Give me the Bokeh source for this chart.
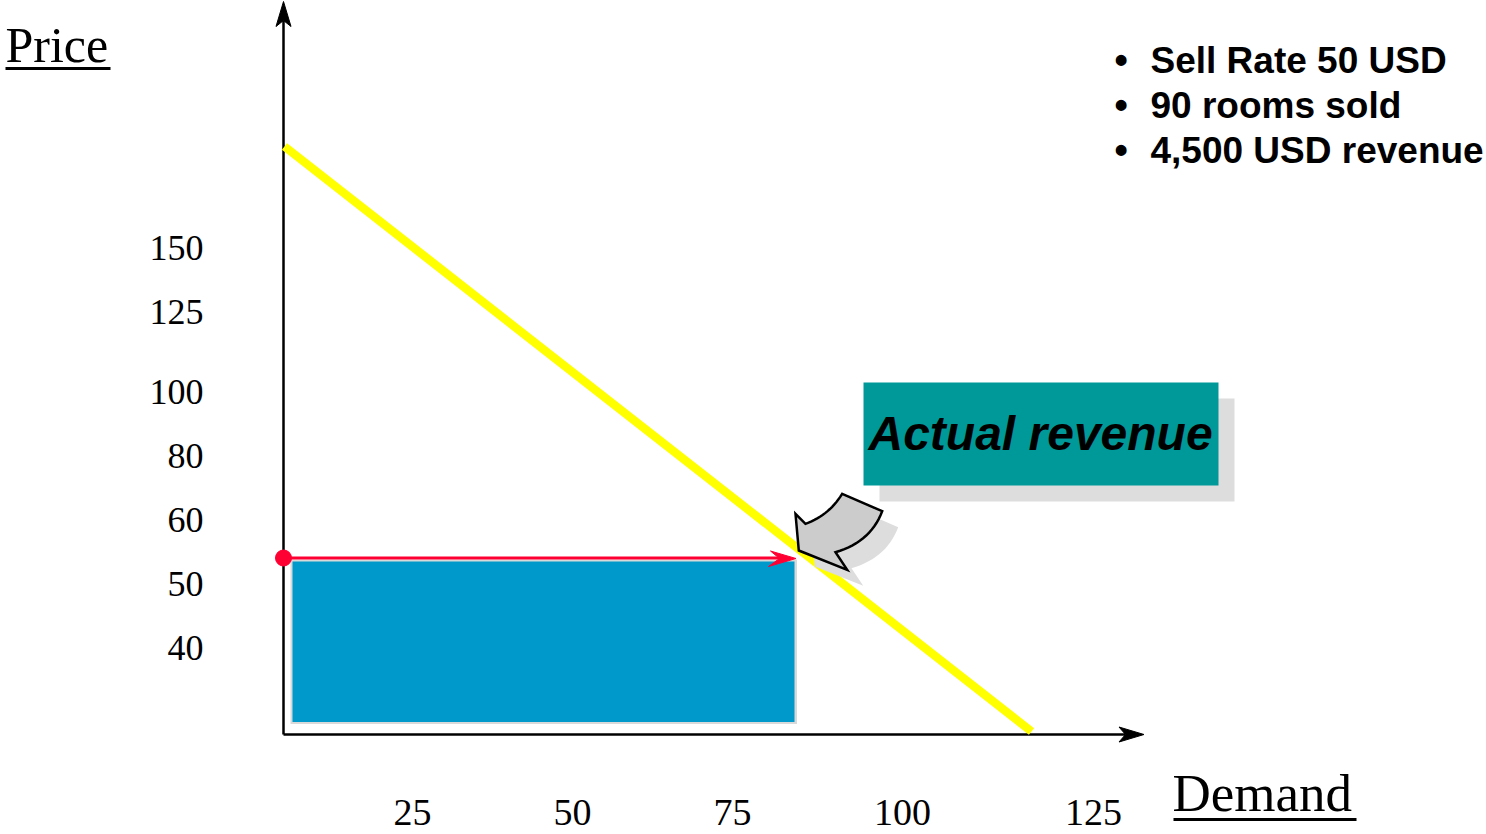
from bokeh.plotting import figure
from bokeh.models import Range1d
from bokeh.core.properties import value
from bokeh.embed import file_html
from bokeh.resources import INLINE
import numpy as np

# ---- data (labels / values) ----
price_ticks = ["150", "125", "100", "80", "60", "50", "40"]
demand_ticks = ["25", "50", "75", "100", "125"]
bullets = ["Sell Rate 50 USD", "90 rooms sold", "4,500 USD revenue"]
callout_label = "Actual revenue"
x_title = "Demand"
y_title = "Price"

# ---- layout (canvas positions, pixels; baselines) ----
price_tick_y = [260, 324, 404, 468, 532, 596, 660]
demand_tick_x = [412, 572, 732, 902, 1093]
bullet_y = [73, 118, 163]

W, H = 1486, 834
p = figure(width=W, height=H, x_range=Range1d(0, W), y_range=Range1d(H, 0),
           output_backend="svg", toolbar_location=None,
           x_axis_type=None, y_axis_type=None, min_border=0,
           outline_line_color=None, background_fill_color="white",
           border_fill_color="white")

serif = value("Liberation Serif")
sans = value("Liberation Sans")


def base(ys, fs):
    # compensate renderer's baseline offset
    return [y - 0.36 * fs for y in ys]


# axes
ox, oy = 283, 734
p.line([ox, ox], [oy, 20], line_color="black", line_width=2.5)
p.line([ox, 1125], [oy, oy], line_color="black", line_width=2.5)
p.patch([283, 290.5, 283, 275.5], [1, 26, 20, 26], fill_color="black", line_color="black", line_width=1)
p.patch([1143.5, 1118.5, 1125, 1118.5], [734, 726.5, 734, 741.5], fill_color="black", line_color="black", line_width=1)

# revenue rectangle
p.quad(left=[290], right=[796.5], top=[559], bottom=[723.5], fill_color="#D9D9D9", line_color=None)
p.quad(left=[292], right=[794], top=[561], bottom=[721.5], fill_color="#0099CC", line_color=None)

# red sell-rate arrow
red = "#FF0033"
p.line([283, 781], [557.5, 557.5], line_color=red, line_width=3)
p.patch([795.5, 770, 779, 768], [558, 550.5, 558, 566], fill_color=red, line_color=red, line_width=1)
p.scatter([283], [557.5], size=16, fill_color=red, line_color=red)

# demand curve
p.line([284, 1031], [146, 731], line_color="#FFFF00", line_width=8.5)

# curved callout arrow
def qbez(p0, c, p1, n=16):
    t = np.linspace(0, 1, n)[:, None]
    p0, c, p1 = map(np.array, (p0, c, p1))
    return (1 - t) ** 2 * p0 + 2 * (1 - t) * t * c + t ** 2 * p1

A = (841.7, 493.3); B = (881.7, 510.7); C = (835.0, 551.7)
D = (846.7, 569.3); E = (798.3, 550.0); F = (795.0, 513.3); G = (805.0, 523.3)
lower = qbez(B, (870.0, 541.7), C)
upper = qbez(G, (828.3, 515.0), A)
pts = np.vstack([[A], lower, [D, E, F], upper])
xs, ys = pts[:, 0], pts[:, 1]
p.patch(xs + 16, ys + 16, fill_color="#DDDDDD", line_color=None)
p.patch(xs, ys, fill_color="#CCCCCC", line_color="black", line_width=2.5, line_join="miter")

# callout box
p.quad(left=[879], right=[1234], top=[398], bottom=[501], fill_color="#DDDDDD", line_color=None)
p.quad(left=[863], right=[1218], top=[382], bottom=[485], fill_color="#009999", line_color=None)
p.text(x=[868], y=base([450], 48), text=[callout_label], text_font=sans, text_font_size="48px",
       text_font_style="bold italic", text_color="black", text_baseline="alphabetic", text_align="left")

# bullets
p.text(x=[1114] * 3, y=base(bullet_y, 37), text=["\u2022"] * 3, text_font=sans, text_font_size="38px",
       text_font_style="bold", text_color="black", text_baseline="alphabetic")
p.text(x=[1150] * 3, y=base(bullet_y, 37), text=bullets, text_font=sans, text_font_size="37px",
       text_font_style="bold", text_color="black", text_baseline="alphabetic")

# tick labels
p.text(x=[203] * len(price_ticks), y=base(price_tick_y, 36), text=price_ticks, text_font=serif,
       text_font_size="36px", text_align="right", text_baseline="alphabetic", text_color="black")
p.text(x=demand_tick_x, y=base([826] * len(demand_ticks), 38), text=demand_ticks, text_font=serif,
       text_font_size="38px", text_align="center", text_baseline="alphabetic", text_color="black")

# axis titles
p.text(x=[5], y=base([62], 50), text=[y_title], text_font=serif, text_font_size="50px",
       text_baseline="alphabetic", text_color="black")
p.line([5, 110], [68, 68], line_color="black", line_width=3)
p.text(x=[1172], y=base([812], 53), text=[x_title], text_font=serif, text_font_size="53px",
       text_baseline="alphabetic", text_color="black")
p.line([1173, 1356], [819, 819], line_color="black", line_width=3)

open("out.html", "w").write(file_html(p, INLINE))
